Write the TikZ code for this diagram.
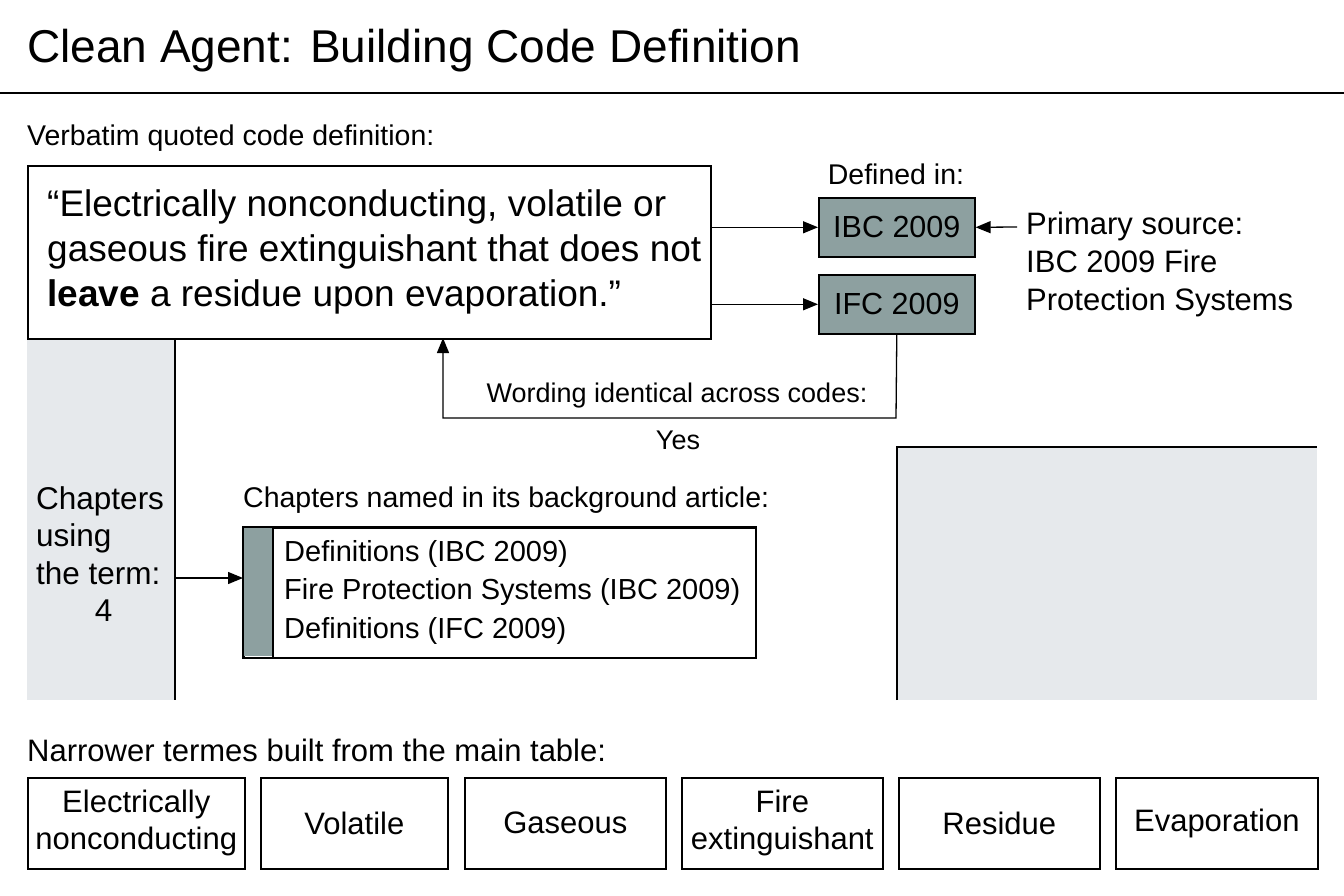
\documentclass[tikz,border=0pt]{standalone}
\usepackage{fontspec}
\setmainfont{Liberation Sans}
\usetikzlibrary{arrows.meta}
\definecolor{teal}{HTML}{8DA0A0}
\definecolor{panel}{HTML}{E6E9EC}
\begin{document}
\begin{tikzpicture}[x=1pt,y=-1pt,
  txt/.style={inner sep=0pt,font=\fontsize{28.5}{33}\selectfont},
  tag/.style={draw,line width=1.6pt,fill=teal,inner sep=0pt,font=\fontsize{30.5}{35}\selectfont},
  term/.style={draw,line width=1.6pt,fill=white,inner sep=0pt,align=center,font=\fontsize{31}{37}\selectfont},
  arr/.style={line width=1.3pt,-{Triangle[length=15pt,width=12pt]}}]
\useasboundingbox[fill=white] (0,0) rectangle (1344,896);
\node[anchor=base west,inner sep=0pt,font=\fontsize{46}{52}\selectfont] (title) at (27,63) {Clean Agent: Building Code Definition};
\draw[line width=1.3pt] (0,93) -- (1344,93);
\node[txt,anchor=west] (verb) at (27,138) {Verbatim quoted code definition:};
% left panel
\fill[panel] (27,338) rectangle (175,700);
\draw[line width=1.3pt] (175,338) -- (175,700);
% right panel
\fill[panel] (897,447) rectangle (1317,700);
\draw[line width=1.3pt] (897,700) -- (897,447) -- (1317,447);
% quote box
\node[draw,line width=1.6pt,fill=white,minimum width=683pt,minimum height=173pt,inner sep=0pt,anchor=north west] (quote) at (27,165) {};
\node[anchor=west,inner sep=0pt,align=left,font=\fontsize{37}{45}\selectfont] (qt) at (47,252) {``Electrically nonconducting, volatile or\\gaseous fire extinguishant that does not\\\textbf{leave} a residue upon evaporation.''};
% tags
\node[txt] (def) at (896,174) {Defined in:};
\node[tag,minimum width=156pt,minimum height=59pt,anchor=north west] (ibc) at (818,197) {IBC 2009};
\node[tag,minimum width=156pt,minimum height=59pt,anchor=north west] (ifc) at (818,274) {IFC 2009};
\draw[arr] (quote.east |- ibc) -- (ibc.west);
\draw[arr] (quote.east |- ifc) -- (ifc.west);
\node[txt,anchor=west,align=left,font=\fontsize{31}{38}\selectfont] (prim) at (1026,264) {Primary source:\\IBC 2009 Fire\\Protection Systems};
\coordinate (pa) at (1017,227);
\draw[arr] (pa) -- (ibc.east);
% wording connector
\coordinate (w1) at (896,418);
\coordinate (w2) at (443,418);
\draw[line width=1.3pt,-{Triangle[length=15pt,width=12pt]}] (ifc.south) -- (w1) -- (w2) -- (443,338);
\node[txt,font=\fontsize{27}{32}\selectfont] (word) at (677,396) {Wording identical across codes:};
\node[txt,font=\fontsize{27}{32}\selectfont] (yes) at (678,440) {Yes};
% chapters
\node[txt,anchor=west,align=left,font=\fontsize{31.5}{37.5}\selectfont] (chap) at (36,554) {Chapters\\using\\the term:\\\hphantom{aaa}\hspace{6pt}4};
\node[txt,anchor=west] (named) at (243,500) {Chapters named in its background article:};
\node[draw,line width=1.6pt,fill=white,minimum width=512pt,minimum height=130pt,inner sep=0pt,anchor=north west] (list) at (243,527) {};
\fill[teal] (244,528) rectangle (273,656);
\draw[line width=1.3pt] (273,527) -- (273,657);
\draw[line width=1.6pt] (list.north west) rectangle (list.south east);
\node[txt,anchor=west,align=left,font=\fontsize{29}{38.5}\selectfont] (items) at (284,592) {Definitions (IBC 2009)\\Fire Protection Systems (IBC 2009)\\Definitions (IFC 2009)};
\coordinate (ca) at (175,578);
\draw[arr] (ca) -- (list.west |- ca);
% narrower terms
\node[txt,anchor=west,font=\fontsize{31}{36}\selectfont] (narrow) at (27,750) {Narrower termes built from the main table:};
\node[term,minimum width=217pt,minimum height=91pt,anchor=north west] (t1) at (27,777) {Electrically\\nonconducting};
\node[term,minimum width=187pt,minimum height=91pt,anchor=north west] (t2) at (260,777) {Volatile};
\node[term,minimum width=201pt,minimum height=91pt,anchor=north west] (t3) at (464,777) {Gaseous};
\node[term,minimum width=201pt,minimum height=91pt,anchor=north west] (t4) at (681,777) {Fire\\extinguishant};
\node[term,minimum width=201pt,minimum height=91pt,anchor=north west] (t5) at (898,777) {Residue};
\node[term,minimum width=202pt,minimum height=91pt,anchor=north west] (t6) at (1115,777) {Evaporation};
\end{tikzpicture}
\end{document}
